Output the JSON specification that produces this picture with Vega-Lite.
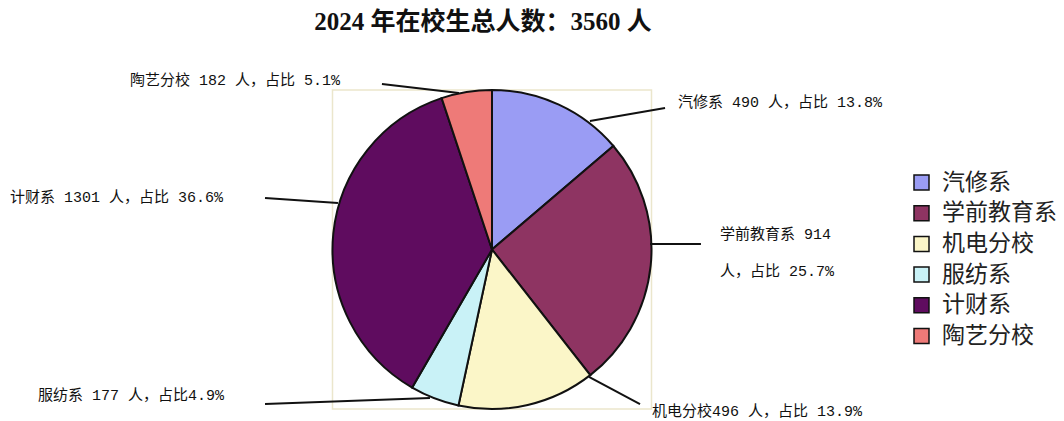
{
  "$schema": "https://vega.github.io/schema/vega-lite/v6.json",
  "width": 1064,
  "height": 376,
  "autosize": "none",
  "padding": {"left": 0, "right": 0, "top": 45, "bottom": 0},
  "background": "white",
  "title": {
    "text": "2024 年在校生总人数：3560 人",
    "font": "Liberation Serif, Noto Sans CJK SC",
    "fontSize": 25,
    "fontWeight": "bold",
    "color": "#111",
    "anchor": "middle",
    "dx": -49,
    "dy": 24,
    "baseline": "alphabetic",
    "offset": 14
  },
  "config": {
    "view": {"stroke": null},
    "legend": {
      "orient": "none",
      "legendX": 910,
      "legendY": 126,
      "title": null,
      "labelFont": "Noto Sans CJK SC",
      "labelFontSize": 23,
      "labelColor": "#222",
      "symbolType": "square",
      "symbolSize": 225,
      "symbolStrokeColor": "#111",
      "symbolStrokeWidth": 1.5,
      "symbolOpacity": 1,
      "rowPadding": 6.7,
      "labelOffset": 9,
      "labelLimit": 300
    }
  },
  "datasets": {
    "slices": [
      {"name": "汽修系", "count": 490, "order": 1},
      {"name": "学前教育系", "count": 914, "order": 2},
      {"name": "机电分校", "count": 496, "order": 3},
      {"name": "服纺系", "count": 177, "order": 4},
      {"name": "计财系", "count": 1301, "order": 5},
      {"name": "陶艺分校", "count": 182, "order": 6}
    ],
    "labels": [
      {"text": "陶艺分校 182 人，占比 5.1%", "x": -2.27, "y": 1.063},
      {"text": "汽修系 490 人，占比 13.8%", "x": 1.166, "y": 0.925},
      {"text": "计财系 1301 人，占比 36.6%", "x": -3.022, "y": 0.329},
      {"text": "学前教育系 914", "x": 1.429, "y": 0.097},
      {"text": "人，占比 25.7%", "x": 1.429, "y": -0.135},
      {"text": "服纺系 177 人，占比4.9%", "x": -2.846, "y": -0.912},
      {"text": "机电分校496 人，占比 13.9%", "x": 1.003, "y": -1.0125}
    ],
    "leaders": [
      {"name": "陶艺分校", "x": -0.69, "y": 1.038, "x2": -0.207, "y2": 0.981},
      {"name": "汽修系", "x": 0.614, "y": 0.806, "x2": 1.085, "y2": 0.887},
      {"name": "计财系", "x": -1.423, "y": 0.323, "x2": -0.966, "y2": 0.292},
      {"name": "学前教育系", "x": 0.991, "y": 0.034, "x2": 1.31, "y2": 0.034},
      {"name": "服纺系", "x": -1.423, "y": -0.969, "x2": -0.389, "y2": -0.931},
      {"name": "机电分校", "x": 0.608, "y": -0.799, "x2": 0.928, "y2": -0.969}
    ]
  },
  "layer": [
    {
      "data": {"values": [{"a": 1}]},
      "mark": {"type": "rect", "fill": null, "stroke": "#ebe6cc", "strokeWidth": 1.5},
      "encoding": {
        "x": {"datum": -1, "type": "quantitative", "scale": {"domain": [-3.0846, 3.5862], "nice": false, "zero": false}, "axis": null},
        "x2": {"datum": 1},
        "y": {"datum": 1.0, "type": "quantitative", "scale": {"domain": [-1.0752, 1.2821], "nice": false, "zero": false}, "axis": null},
        "y2": {"datum": -1.0}
      }
    },
    {
      "data": {"name": "slices"},
      "mark": {"type": "arc", "outerRadius": 159.5, "stroke": "#111", "strokeWidth": 2},
      "encoding": {
        "x": {"datum": 0, "type": "quantitative", "scale": {"domain": [-3.0846, 3.5862], "nice": false, "zero": false}, "axis": null},
        "y": {"datum": 0, "type": "quantitative", "scale": {"domain": [-1.0752, 1.2821], "nice": false, "zero": false}, "axis": null},
        "theta": {"field": "count", "type": "quantitative", "stack": true},
        "order": {"field": "order", "type": "quantitative"},
        "color": {
          "field": "name",
          "type": "nominal",
          "sort": ["汽修系", "学前教育系", "机电分校", "服纺系", "计财系", "陶艺分校"],
          "scale": {
            "domain": ["汽修系", "学前教育系", "机电分校", "服纺系", "计财系", "陶艺分校"],
            "range": ["#9a9cf4", "#8e3462", "#fbf6c8", "#c9f2f7", "#5f0c5f", "#ee7a78"]
          }
        }
      }
    },
    {
      "data": {"name": "leaders"},
      "mark": {"type": "rule", "color": "#111", "strokeWidth": 2},
      "encoding": {
        "x": {"field": "x", "type": "quantitative", "scale": {"domain": [-3.0846, 3.5862], "nice": false, "zero": false}, "axis": null},
        "y": {"field": "y", "type": "quantitative", "scale": {"domain": [-1.0752, 1.2821], "nice": false, "zero": false}, "axis": null},
        "x2": {"field": "x2"},
        "y2": {"field": "y2"}
      }
    },
    {
      "data": {"name": "labels"},
      "mark": {"type": "text", "align": "left", "baseline": "middle", "font": "Liberation Mono, Noto Sans CJK SC", "fontSize": 15, "color": "#111"},
      "encoding": {
        "x": {"field": "x", "type": "quantitative", "scale": {"domain": [-3.0846, 3.5862], "nice": false, "zero": false}, "axis": null},
        "y": {"field": "y", "type": "quantitative", "scale": {"domain": [-1.0752, 1.2821], "nice": false, "zero": false}, "axis": null},
        "text": {"field": "text", "type": "nominal"}
      }
    }
  ]
}
